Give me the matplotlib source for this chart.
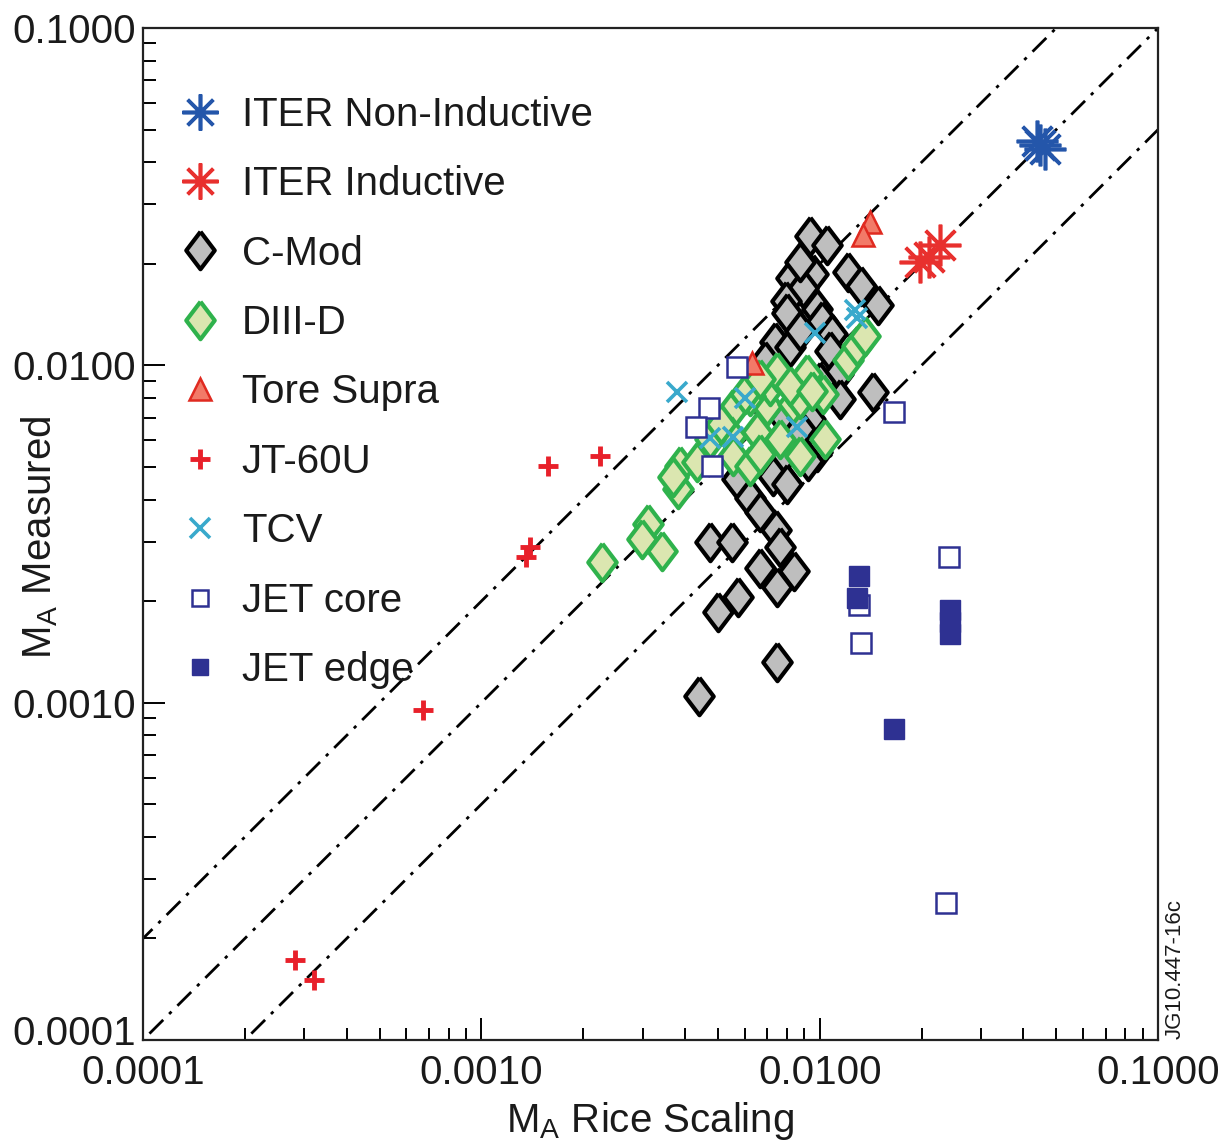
import matplotlib
matplotlib.use("Agg")
import matplotlib.pyplot as plt
import numpy as np
from matplotlib.ticker import FixedLocator, FuncFormatter, LogLocator, NullFormatter
from matplotlib.transforms import ScaledTranslation

plt.rcParams['font.family'] = ['Liberation Sans', 'DejaVu Sans']

# values (x = M_A Rice scaling, y = M_A measured)
iter_ni_x = [0.0438, 0.0449, 0.0462]
iter_ni_y = [0.0462, 0.0450, 0.0438]
iter_ind_x = [0.0198, 0.0210, 0.0227]
iter_ind_y = [0.0202, 0.0210, 0.0227]

cmod_x = [0.00934, 0.01049, 0.00953, 0.00821, 0.0121, 0.00891, 0.0132, 0.0149,
          0.00793, 0.00799, 0.0098, 0.01014, 0.01085, 0.00736, 0.00815, 0.00873,
          0.0107, 0.0113, 0.01434, 0.01146, 0.0100, 0.00688, 0.00665, 0.00788,
          0.00934, 0.00844, 0.00711, 0.00873, 0.00762, 0.00726, 0.00799, 0.00568,
          0.00621, 0.00665, 0.00741, 0.00475, 0.00552, 0.00762, 0.00665, 0.00838,
          0.00746, 0.00575, 0.00502, 0.00746, 0.00441, 0.0098, 0.00922, 0.00873]
cmod_y = [0.0241, 0.0228, 0.0186, 0.0182, 0.0189, 0.0170, 0.0172, 0.0151,
          0.0155, 0.0143, 0.0147, 0.0135, 0.01236, 0.0117, 0.01131, 0.01261,
          0.0110, 0.00945, 0.00836, 0.00796, 0.00895, 0.01028, 0.00796, 0.00695,
          0.00695, 0.00586, 0.00547, 0.00649, 0.00529, 0.00471, 0.00446, 0.00461,
          0.00403, 0.00368, 0.00324, 0.0030, 0.0030, 0.0029, 0.0025, 0.00245,
          0.00221, 0.00206, 0.00186, 0.00132, 0.00105, 0.00555, 0.00522, 0.0203]

diiid_x = [0.00228, 0.0031, 0.00299, 0.00343, 0.00387, 0.0038, 0.00369, 0.00435,
           0.00556, 0.00697, 0.00832, 0.00651, 0.00762, 0.00545, 0.00556, 0.00621,
           0.00873, 0.01035, 0.00711, 0.00621, 0.00746, 0.00915, 0.00873, 0.0102,
           0.00815, 0.0121, 0.01286, 0.01359, 0.00475, 0.00509, 0.00603, 0.00665,
           0.00947, 0.00665]
diiid_y = [0.00262, 0.00339, 0.00306, 0.00282, 0.00504, 0.00431, 0.00468, 0.00518,
           0.00744, 0.00759, 0.0077, 0.00636, 0.00606, 0.00619, 0.0054, 0.00504,
           0.0054, 0.00606, 0.00871, 0.00813, 0.00958, 0.00945, 0.00796, 0.00825,
           0.00871, 0.0104, 0.01139, 0.01219, 0.00606, 0.00672, 0.00825, 0.00913,
           0.00841, 0.00547]

tore_x = [0.01409, 0.01343, 0.00631]
tore_y = [0.0266, 0.0243, 0.01016]

jt60_x = [0.001574, 0.002245, 0.001393, 0.001355, 0.000673, 0.000281, 0.000320]
jt60_y = [0.00503, 0.00538, 0.00289, 0.00270, 0.000951, 0.000173, 0.000151]

tcv_x = [0.00379, 0.00474, 0.00555, 0.00602, 0.00857, 0.00968, 0.01274, 0.01292]
tcv_y = [0.00833, 0.00609, 0.00613, 0.00800, 0.00656, 0.01247, 0.01459, 0.0138]

jet_core_x = [0.00570, 0.00471, 0.00432, 0.00481, 0.0166, 0.0241, 0.01308, 0.01324, 0.02366]
jet_core_y = [0.00988, 0.00747, 0.00656, 0.00503, 0.00727, 0.00270, 0.00195, 0.00150, 0.000255]

jet_edge_x = [0.01308, 0.01291, 0.0243, 0.0243, 0.0243, 0.0166]
jet_edge_y = [0.00237, 0.00204, 0.00188, 0.00173, 0.00160, 0.000835]

ratios = [0.5, 1.0, 2.0]
tick_vals = [0.0001, 0.001, 0.01, 0.1]

# slightly tall diamond, as in the original figure
tall_diamond = [(0, 1), (0.76, 0), (0, -1), (-0.76, 0), (0, 1)]

fig = plt.figure(figsize=(12.32, 11.44), dpi=100)
ax = fig.add_axes([0.1161, 0.0909, 0.8239, 0.8846])
ax.set_xscale('log')
ax.set_yscale('log')
ax.set_xlim(1e-4, 1e-1)
ax.set_ylim(1e-4, 1e-1)

xx = np.array([1e-5, 1.0])
for r in ratios:
    ax.plot(xx, r * xx, color='black', lw=2.0, dashes=(7, 3, 1.2, 3), zorder=1)

ax.plot(cmod_x, cmod_y, marker=tall_diamond, ms=27, mfc='#bebebe', mec='black', mew=3,
        ls='none', label='C-Mod', zorder=2)
ax.plot(diiid_x, diiid_y, marker=tall_diamond, ms=27, mfc='#dbe6b0', mec='#2fb24c', mew=3,
        ls='none', label='DIII-D', zorder=3)
ax.plot(tcv_x, tcv_y, 'x', ms=15, mec='#39a9cc', mew=2.6, ls='none', label='TCV', zorder=4)
ax.plot(tore_x, tore_y, '^', ms=16, mfc='#f27a68', mec='#e02a20', mew=1.8, ls='none',
        label='Tore Supra', zorder=4)
ax.plot(jt60_x, jt60_y, '+', ms=14, mec='#e8202a', mew=3.5, ls='none', label='JT-60U', zorder=4)
ax.plot(jet_core_x, jet_core_y, 's', ms=14, mfc='white', mec='#2e3192', mew=1.8, ls='none',
        label='JET core', zorder=5)
ax.plot(jet_edge_x, jet_edge_y, 's', ms=14, mfc='#2e3192', mec='#2e3192', mew=1.0, ls='none',
        label='JET edge', zorder=6)
ax.plot(iter_ni_x, iter_ni_y, ls='none', marker=(8, 2, 0), ms=30, mec='#2456aa', mew=2.6,
        label='ITER Non-Inductive', zorder=6)
ax.plot(iter_ind_x, iter_ind_y, ls='none', marker=(8, 2, 0), ms=30, mec='#e8302e', mew=2.6,
        label='ITER Inductive', zorder=6)

handles, labels = ax.get_legend_handles_labels()
order = ['ITER Non-Inductive', 'ITER Inductive', 'C-Mod', 'DIII-D', 'Tore Supra',
         'JT-60U', 'TCV', 'JET core', 'JET edge']
hmap = dict(zip(labels, handles))
leg = ax.legend([hmap[k] for k in order], order, loc='upper left',
                bbox_to_anchor=(0.02, 0.949), frameon=False, fontsize=29,
                handlelength=1.0, handletextpad=0.55, labelspacing=0.78,
                borderaxespad=0.0, numpoints=1)
for t in leg.get_texts():
    t.set_color('#1a1a1a')
# legend glyphs are a bit smaller than the plotted ones
for h in leg.legend_handles:
    m = h.get_marker()
    if m == (8, 2, 0):
        h.set_markersize(26)
    elif m == 's':
        h.set_markersize(12)

ax.xaxis.set_major_locator(FixedLocator(tick_vals))
ax.yaxis.set_major_locator(FixedLocator(tick_vals))
ax.xaxis.set_minor_locator(LogLocator(base=10, subs=np.arange(2, 10)))
ax.yaxis.set_minor_locator(LogLocator(base=10, subs=np.arange(2, 10)))
fmt = FuncFormatter(lambda v, p: '%.4f' % v)
ax.xaxis.set_major_formatter(fmt)
ax.yaxis.set_major_formatter(fmt)
ax.xaxis.set_minor_formatter(NullFormatter())
ax.yaxis.set_minor_formatter(NullFormatter())
ax.tick_params(which='both', direction='in', top=False, right=False, width=1.4,
               labelsize=29, labelcolor='#1a1a1a')
ax.tick_params(which='major', length=16)
ax.tick_params(which='minor', length=9)
ax.tick_params(axis='x', pad=10)
ax.tick_params(axis='y', pad=5)
for s in ax.spines.values():
    s.set_linewidth(1.6)
    s.set_color('#222222')

ax.set_xlabel(r'M$_\mathregular{A}$ Rice Scaling', fontsize=29, color='#1a1a1a', labelpad=6)
ax.set_ylabel(r'M$_\mathregular{A}$ Measured', fontsize=29, color='#1a1a1a')
ax.yaxis.set_label_coords(-0.082, 0.497)

fig.text(0.954, 0.092, 'JG10.447-16c', rotation=90, fontsize=16, color='#1a1a1a',
         ha='center', va='bottom')

# lift the lowest y tick label a little so it clears the x tick label
fig.canvas.draw()
lowest = ax.yaxis.get_major_ticks()[0].label1
lowest.set_transform(lowest.get_transform() + ScaledTranslation(0, 10 / 100, fig.dpi_scale_trans))

fig.savefig('out.png', dpi=100)
